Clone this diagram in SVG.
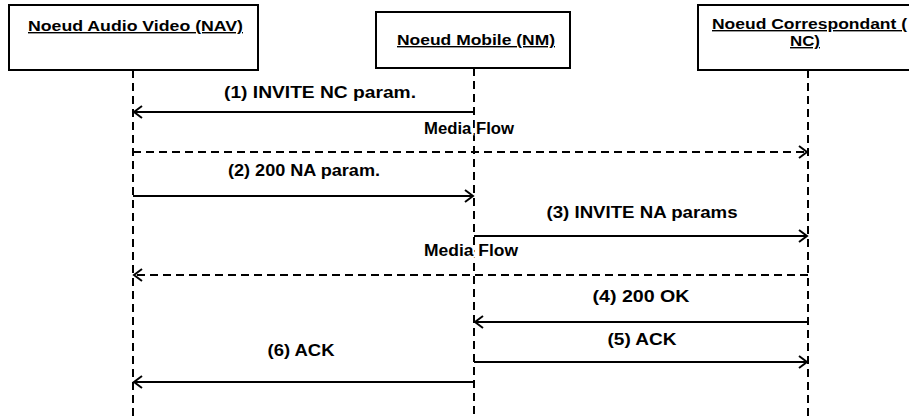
<svg xmlns="http://www.w3.org/2000/svg" width="909" height="418" viewBox="0 0 909 418">
<style>
  .box{fill:#fff;stroke:#000;stroke-width:2}
  .blabel{font-family:"Liberation Sans",Arial,sans-serif;font-weight:bold;font-size:14px;fill:#000;text-decoration:underline}
  .life{stroke:#000;stroke-width:2;stroke-dasharray:8 5;fill:none}
  .msg{stroke:#000;stroke-width:2;fill:none;marker-end:url(#arr)}
  .flow{stroke:#000;stroke-width:1.8;fill:none;stroke-dasharray:8 5;marker-end:url(#arr)}
  .mlabel{font-family:"Liberation Sans",Arial,sans-serif;font-weight:bold;font-size:16px;fill:#000;text-anchor:middle}
  .over{stroke:#fff;stroke-width:4;paint-order:stroke}
</style>
<defs>
  <marker id="arr" markerUnits="userSpaceOnUse" markerWidth="12" markerHeight="16" refX="9" refY="7" orient="auto">
    <path d="M1,1 L9,7 L1,13" fill="none" stroke="#000" stroke-width="2"/>
  </marker>
</defs>
<rect width="909" height="418" fill="#fff"/>
<g id="lifelines">
  <line class="life" x1="133" y1="70" x2="133" y2="418"/>
  <line class="life" x1="474" y1="68" x2="474" y2="418"/>
  <line class="life" x1="808" y1="70" x2="808" y2="418"/>
</g>
<g id="node-nav">
  <rect class="box" x="9" y="5" width="249" height="65"/>
  <text class="blabel" x="28" y="31" textLength="215" lengthAdjust="spacingAndGlyphs">Noeud Audio Video (NAV)</text>
</g>
<g id="node-nm">
  <rect class="box" x="376" y="12" width="194" height="56"/>
  <text class="blabel" x="397" y="45" textLength="158" lengthAdjust="spacingAndGlyphs">Noeud Mobile (NM)</text>
</g>
<g id="node-nc">
  <rect class="box" x="698" y="5" width="216" height="65"/>
  <text class="blabel" x="712" y="29" textLength="195" lengthAdjust="spacingAndGlyphs">Noeud Correspondant (</text>
  <text class="blabel" x="790" y="46" textLength="30" lengthAdjust="spacingAndGlyphs">NC)</text>
</g>
<g id="connectors">
  <line class="msg" x1="474" y1="112" x2="134" y2="112"/>
  <text class="mlabel" x="320" y="98" textLength="192" lengthAdjust="spacingAndGlyphs">(1) INVITE NC param.</text>
  <line class="flow" x1="133" y1="152" x2="807" y2="152"/>
  <text class="mlabel over" x="469" y="134" textLength="90" lengthAdjust="spacingAndGlyphs">Media Flow</text>
  <line class="msg" x1="133" y1="196" x2="473" y2="196"/>
  <text class="mlabel" x="304" y="176" textLength="152" lengthAdjust="spacingAndGlyphs">(2) 200 NA param.</text>
  <line class="msg" x1="474" y1="236" x2="807" y2="236"/>
  <text class="mlabel" x="642" y="218" textLength="191" lengthAdjust="spacingAndGlyphs">(3) INVITE NA params</text>
  <line class="flow" x1="808" y1="275" x2="134" y2="275"/>
  <text class="mlabel over" x="471" y="256" textLength="94" lengthAdjust="spacingAndGlyphs">Media Flow</text>
  <line class="msg" x1="808" y1="322" x2="475" y2="322"/>
  <text class="mlabel" x="641" y="302" textLength="97" lengthAdjust="spacingAndGlyphs">(4) 200 OK</text>
  <line class="msg" x1="474" y1="362" x2="807" y2="362"/>
  <text class="mlabel" x="642" y="345" textLength="69" lengthAdjust="spacingAndGlyphs">(5) ACK</text>
  <line class="msg" x1="474" y1="382" x2="134" y2="382"/>
  <text class="mlabel" x="301" y="356" textLength="67" lengthAdjust="spacingAndGlyphs">(6) ACK</text>
</g>
</svg>
